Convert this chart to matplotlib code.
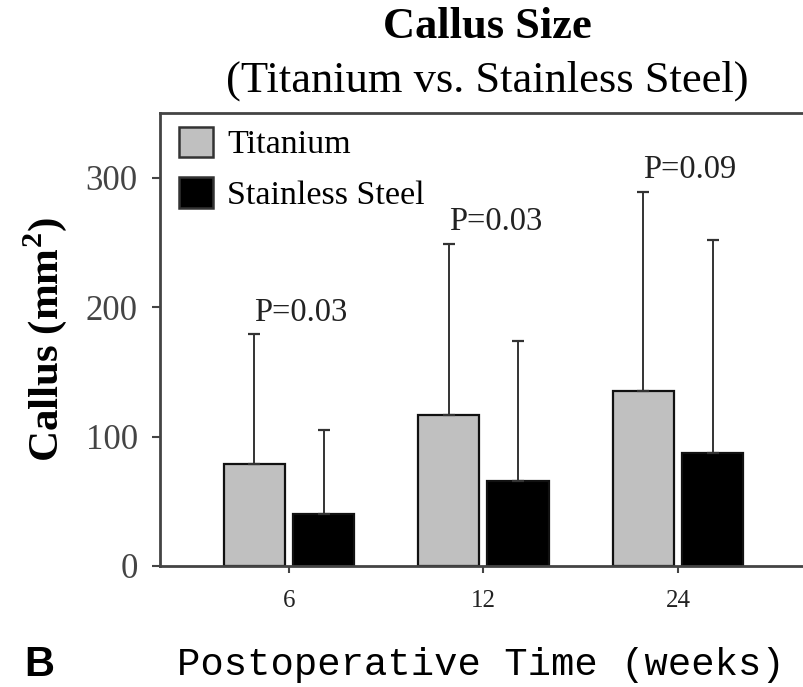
import numpy as np
import matplotlib
matplotlib.use("Agg")
import matplotlib.pyplot as plt

# data
weeks = ["6", "12", "24"]
titanium_mean = [79, 117, 135]
titanium_sd = [100, 132, 154]
steel_mean = [40, 66, 87]
steel_sd = [65, 108, 165]
p_values = ["P=0.03", "P=0.03", "P=0.09"]
series_names = ["Titanium", "Stainless Steel"]

plt.rcParams["mathtext.fontset"] = "custom"
plt.rcParams["mathtext.rm"] = "Liberation Serif"
plt.rcParams["mathtext.bf"] = "Liberation Serif:bold"

fig = plt.figure(figsize=(8.04, 6.87), dpi=100)
ax = fig.add_axes([160 / 804, 121 / 687, 644 / 804, 453 / 687])

x = np.arange(len(weeks))
w = 0.315
off = 0.178
err_kw = dict(ecolor="#333333", elinewidth=1.4, capsize=4.5, capthick=1.6)

ti_err = [np.zeros(len(x)), titanium_sd]
st_err = [np.zeros(len(x)), steel_sd]
ax.bar(x - off, titanium_mean, w, color="#c0c0c0", edgecolor="#111111",
       linewidth=1.6, yerr=ti_err, error_kw=err_kw, label=series_names[0], zorder=2)
ax.bar(x + off, steel_mean, w, color="#000000", edgecolor="#111111",
       linewidth=1.6, yerr=st_err, error_kw=err_kw, label=series_names[1], zorder=2)

# p-value labels sit just above the titanium error bars
for i, p in enumerate(p_values):
    top = titanium_mean[i] + titanium_sd[i]
    ax.text(x[i] - off, top + 17, p, ha="left", va="center",
            family="Liberation Serif", fontsize=23.5, color="#222222")

ax.set_xlim(-0.663, 2.648)
ax.set_ylim(0, 350)
ax.set_yticks([0, 100, 200, 300])
ax.set_xticks(x)
ax.set_xticklabels(weeks, family="Liberation Serif", fontsize=18, color="#222222")
for lab in ax.get_yticklabels():
    lab.set_family("Liberation Serif")
    lab.set_fontsize(25)
    lab.set_color("#444444")
ax.tick_params(axis="y", length=6, width=1.5, color="#444444", pad=10)
ax.tick_params(axis="x", length=5, width=1.5, color="#444444", pad=12)

for s in ["left", "bottom", "top"]:
    ax.spines[s].set_linewidth(2)
    ax.spines[s].set_color("#444444")
ax.spines["right"].set_visible(False)

ax.set_ylabel(r"Callus (mm$^{\mathbf{2}}$)", family="Liberation Serif",
              fontweight="bold", fontsize=31, labelpad=12)

leg = ax.legend(loc="upper left", bbox_to_anchor=(0.03, 0.97), frameon=False,
                prop={"family": "Liberation Serif", "size": 24.5},
                handlelength=1.0, handleheight=1.0, handletextpad=0.4,
                labelspacing=0.5, borderpad=0, borderaxespad=0)
for h in leg.legend_handles:
    h.set_edgecolor("#333333")
    h.set_linewidth(1.8)

fig.text(0.606, 1 - 38 / 687, "Callus Size", ha="center", va="baseline",
         family="Liberation Serif", fontweight="bold", fontsize=32)
fig.text(0.606, 1 - 92 / 687, "(Titanium vs. Stainless Steel)", ha="center",
         va="baseline", family="Liberation Serif", fontsize=32)
fig.text(0.598, 0.032, "Postoperative Time (weeks)", ha="center", va="center",
         family="Liberation Mono", fontsize=28)
fig.text(0.03, 0.032, "B", ha="left", va="center",
         family="Liberation Sans", fontweight="bold", fontsize=30)

fig.savefig("out.png", dpi=100)
